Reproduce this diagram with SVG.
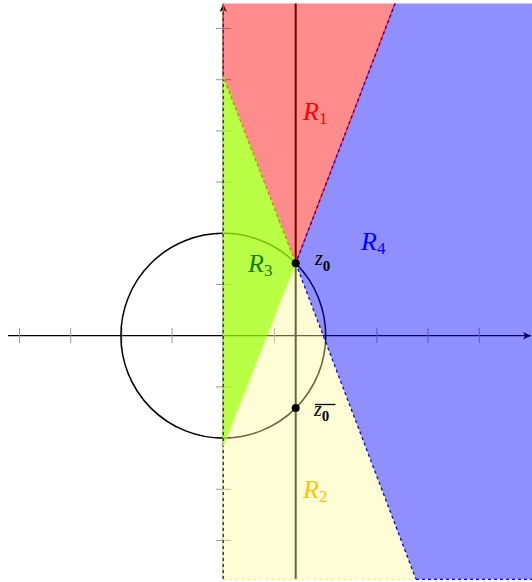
<svg xmlns="http://www.w3.org/2000/svg" width="532" height="582" viewBox="0 0 532 582">
<defs>
<marker id="arr" markerWidth="10" markerHeight="10" refX="9" refY="5" orient="auto" markerUnits="userSpaceOnUse"><path d="M1,1.2 L9,5 L1,8.8 L3.2,5 z" fill="#000"/></marker>
</defs>
<style>
.tick{stroke:#999;stroke-width:1}
.ax{stroke:#000;stroke-width:1.2;fill:none}
.lab{font-family:"Liberation Serif","DejaVu Serif",serif;font-style:italic}
.sub{font-style:normal}
.dash{fill:none;stroke-width:1.3;stroke-dasharray:3 3}
</style>
<g id="axes">
<line class="ax" x1="8" y1="335.7" x2="531" y2="335.7" marker-end="url(#arr)"/>
<line class="ax" x1="223.3" y1="579.3" x2="223.3" y2="4" marker-end="url(#arr)"/>
<g id="ticks">
<line class="tick" x1="19.5" y1="328" x2="19.5" y2="343"/>
<line class="tick" x1="70.7" y1="328" x2="70.7" y2="343"/>
<line class="tick" x1="121.9" y1="328" x2="121.9" y2="343"/>
<line class="tick" x1="172.1" y1="328" x2="172.1" y2="343"/>
<line class="tick" x1="274.5" y1="328" x2="274.5" y2="343"/>
<line class="tick" x1="325.7" y1="328" x2="325.7" y2="343"/>
<line class="tick" x1="376.9" y1="328" x2="376.9" y2="343"/>
<line class="tick" x1="428.1" y1="328" x2="428.1" y2="343"/>
<line class="tick" x1="479.3" y1="328" x2="479.3" y2="343"/>
<line class="tick" x1="216" y1="28.5" x2="231" y2="28.5"/>
<line class="tick" x1="216" y1="79.7" x2="231" y2="79.7"/>
<line class="tick" x1="216" y1="130.9" x2="231" y2="130.9"/>
<line class="tick" x1="216" y1="182.1" x2="231" y2="182.1"/>
<line class="tick" x1="216" y1="233.3" x2="231" y2="233.3"/>
<line class="tick" x1="216" y1="284.5" x2="231" y2="284.5"/>
<line class="tick" x1="216" y1="386.9" x2="231" y2="386.9"/>
<line class="tick" x1="216" y1="438.1" x2="231" y2="438.1"/>
<line class="tick" x1="216" y1="489.3" x2="231" y2="489.3"/>
<line class="tick" x1="216" y1="540.5" x2="231" y2="540.5"/>
</g>
</g>
<g id="circle">
<circle cx="223.3" cy="335.7" r="102.4" fill="none" stroke="#000" stroke-width="1.5"/>
</g>
<g id="vline">
<line x1="295.7" y1="3.5" x2="295.7" y2="579.3" stroke="#000" stroke-width="2"/>
</g>
<g id="regions">
<polygon id="R1" points="223.3,3.5 395,3.5 295.7,263.3 223.3,77" fill="#ff0000" fill-opacity="0.45"/>
<polygon id="R4" points="395,3.5 532,3.5 532,579.3 416,579.3 295.7,263.3" fill="#0000ff" fill-opacity="0.44"/>
<polygon id="R3" points="223.3,77 295.7,263.3 223.3,446" fill="#a0ff08" fill-opacity="0.75"/>
<polygon id="R2" points="223.3,446 295.7,263.3 416,579.3 223.3,579.3" fill="#fffa96" fill-opacity="0.4"/>
</g>
<g id="connectors">
<line x1="223.3" y1="3.5" x2="223.3" y2="77" stroke="#ff3030" stroke-width="1.4"/>
<line x1="223.3" y1="77" x2="223.3" y2="446" stroke="#9ef020" stroke-width="1.4"/>
<line x1="223.3" y1="446" x2="223.3" y2="579.3" stroke="#f4f0a0" stroke-width="1.4"/>
<line class="dash" x1="223.3" y1="12" x2="223.3" y2="579.3" stroke="#333"/>
<line x1="223.3" y1="77" x2="295.7" y2="263.3" stroke="#ff4040" stroke-width="1"/>
<line class="dash" x1="223.3" y1="77" x2="295.7" y2="263.3" stroke="#a8ff30"/>
<line class="dash" x1="223.3" y1="446" x2="295.7" y2="263.3" stroke="#c8ff50"/>
<line x1="395" y1="3.5" x2="295.7" y2="263.3" stroke="#ff2020" stroke-width="1.2"/>
<line class="dash" x1="395" y1="3.5" x2="295.7" y2="263.3" stroke="#0000ff"/>
<line class="dash" x1="295.7" y1="263.3" x2="416" y2="579.3" stroke="#0000ff"/>
<line class="dash" x1="416" y1="579.3" x2="532" y2="579.3" stroke="#0000ff"/>
<line class="dash" x1="223.3" y1="579.3" x2="416" y2="579.3" stroke="#f4f080"/>
</g>
<g id="z0">
<circle cx="295.7" cy="263.3" r="4" fill="#000"/>
<text class="lab" x="315" y="265" font-size="20" fill="#000">z<tspan class="sub" font-size="15" font-weight="bold" dy="5.5">0</tspan></text>
</g>
<g id="z0bar">
<circle cx="295.7" cy="408.1" r="4" fill="#000"/>
<text class="lab" x="314" y="416" font-size="20" fill="#000">z<tspan class="sub" font-size="15" font-weight="bold" dy="5">0</tspan></text>
<line x1="315" y1="404.5" x2="335.5" y2="404.5" stroke="#000" stroke-width="1.3"/>
</g>
<g id="labels">
<text class="lab" x="303" y="120" font-size="26" fill="#ff0000">R<tspan class="sub" font-size="17" dy="4">1</tspan></text>
<text class="lab" x="361" y="250" font-size="26" fill="#0000ff">R<tspan class="sub" font-size="17" dy="4">4</tspan></text>
<text class="lab" x="248" y="272" font-size="26" fill="#1a7a1a">R<tspan class="sub" font-size="17" dy="4">3</tspan></text>
<text class="lab" x="303" y="498" font-size="26" fill="#ffc400">R<tspan class="sub" font-size="17" dy="4">2</tspan></text>
</g>
</svg>
